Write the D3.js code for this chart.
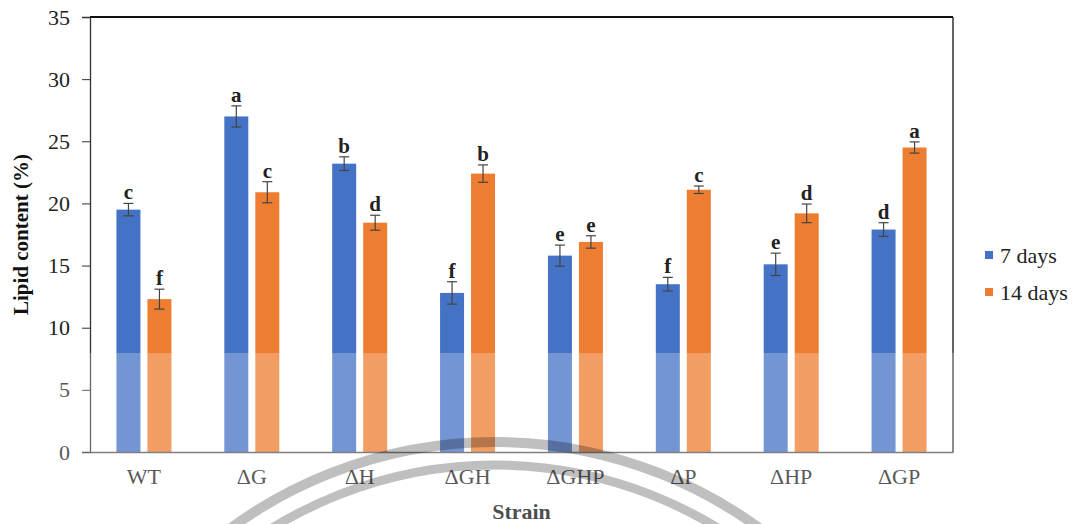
<!DOCTYPE html>
<html><head><meta charset="utf-8">
<script src="https://cdn.jsdelivr.net/npm/d3@7"></script>
<style>body{margin:0;background:#fff}svg{display:block}</style>
</head><body>
<script>
const categories = ["WT","ΔG","ΔH","ΔGH","ΔGHP","ΔP","ΔHP","ΔGP"];
const days7  = [19.5, 27.0, 23.2, 12.8, 15.8, 13.5, 15.1, 17.9];
const days14 = [12.3, 20.9, 18.45, 22.4, 16.9, 21.1, 19.2, 24.5];
const err7   = [0.5, 0.85, 0.55, 0.9, 0.85, 0.55, 0.9, 0.55];
const err14  = [0.8, 0.85, 0.6, 0.7, 0.5, 0.3, 0.75, 0.45];
const letters7  = ["c","a","b","f","e","f","e","d"];
const letters14 = ["f","c","d","b","e","c","d","a"];
const seriesNames = ["7 days","14 days"];
const colors = ["#4472C4","#ED7D31"];
const yTicks = [0,5,10,15,20,25,30,35];

const W=1083,H=524;
const m={l:90,r:953,t:17,b:452};
const svg=d3.select("body").append("svg").attr("width",W).attr("height",H);
const serif="'Liberation Serif','Times New Roman',serif";

const x=d3.scaleBand().domain(categories).range([m.l,m.r]).paddingInner(0).paddingOuter(0);
const y=d3.scaleLinear().domain([0,35]).range([m.b,m.t]);
const barW=24, gap=7;

// bars
const series=[days7,days14], errs=[err7,err14], lets=[letters7,letters14];
series.forEach((vals,si)=>{
  const g=svg.append("g");
  const xo=c=>x(c)+x.bandwidth()/2+(si===0?-(gap/2+barW):gap/2);
  g.selectAll("rect").data(categories).join("rect")
    .attr("x",c=>xo(c)).attr("width",barW)
    .attr("y",(c,i)=>y(vals[i])).attr("height",(c,i)=>y(0)-y(vals[i]))
    .attr("fill",colors[si]);
  // error bars
  categories.forEach((c,i)=>{
    const cx=xo(c)+barW/2, hi=y(vals[i]+errs[si][i]), lo=y(vals[i]-errs[si][i]);
    g.append("line").attr("x1",cx).attr("x2",cx).attr("y1",hi).attr("y2",lo).attr("stroke","#444").attr("stroke-width",1.2);
    [hi,lo].forEach(yy=>g.append("line").attr("x1",cx-5).attr("x2",cx+5).attr("y1",yy).attr("y2",yy).attr("stroke","#444").attr("stroke-width",1.2));
    g.append("text").attr("x",cx).attr("y",hi-4).attr("text-anchor","middle")
      .attr("font-family",serif).attr("font-weight","bold").attr("font-size",21).attr("fill","#222").text(lets[si][i]);
  });
});

// y axis
const yAxis=svg.append("g").attr("transform",`translate(${m.l},0)`)
  .call(d3.axisLeft(y).tickValues(yTicks).tickSize(8).tickPadding(12).tickFormat(d3.format("d")));
yAxis.select(".domain").attr("stroke","#333").attr("stroke-width",1.3);
yAxis.selectAll(".tick line").attr("stroke","#333");
yAxis.selectAll("text").attr("font-family",serif).attr("font-size",22).attr("fill","#222");

// x axis
const xAxis=svg.append("g").attr("transform",`translate(0,${m.b})`)
  .call(d3.axisBottom(x).tickSize(0).tickPadding(16));
xAxis.select(".domain").attr("stroke","#555").attr("stroke-width",1.3);
xAxis.selectAll("text").attr("font-family",serif).attr("font-size",22).attr("fill","#222");

// frame top and right
svg.append("line").attr("x1",m.l).attr("x2",m.r).attr("y1",m.t).attr("y2",m.t).attr("stroke","#111").attr("stroke-width",2);
svg.append("line").attr("x1",m.r).attr("x2",m.r).attr("y1",m.t).attr("y2",m.b).attr("stroke","#111").attr("stroke-width",1.3);

// titles
svg.append("text").attr("transform",`translate(28,${(m.t+m.b)/2}) rotate(-90)`).attr("text-anchor","middle")
  .attr("font-family",serif).attr("font-weight","bold").attr("font-size",21).attr("fill","#111").text("Lipid content (%)");
svg.append("text").attr("x",(m.l+m.r)/2).attr("y",519).attr("text-anchor","middle")
  .attr("font-family",serif).attr("font-weight","bold").attr("font-size",22).attr("fill","#111").text("Strain");

// legend
seriesNames.forEach((n,i)=>{
  const ly=255+i*37;
  svg.append("rect").attr("x",985).attr("y",ly-4).attr("width",8).attr("height",8).attr("fill",colors[i]);
  svg.append("text").attr("x",1000).attr("y",ly+8).attr("font-family",serif).attr("font-size",22).attr("fill","#222").text(n);
});

// washed-out lower band
svg.append("rect").attr("x",0).attr("y",353).attr("width",W).attr("height",H-353).attr("fill","#fff").attr("opacity",0.25);

// watermark arcs
[[448,10],[425,9]].forEach(([r,w])=>{
  svg.append("circle").attr("cx",495).attr("cy",890).attr("r",r).attr("fill","none")
    .attr("stroke","#000").attr("stroke-opacity",0.25).attr("stroke-width",w);
});
</script>
</body></html>
